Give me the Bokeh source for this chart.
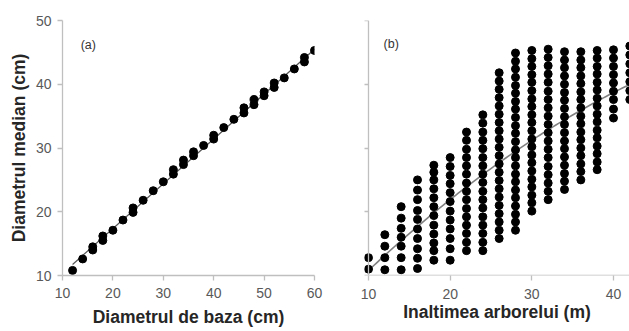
import numpy as np
from bokeh.plotting import figure
from bokeh.layouts import row
from bokeh.models import Range1d, Label, ColumnDataSource
from bokeh.embed import file_html
from bokeh.resources import INLINE

# ---- panel (a): base diameter vs median diameter ----
base_diam = [12, 14, 16, 16, 18, 18, 20, 22, 24, 24, 26, 28, 30, 32, 32, 34, 34,
             36, 36, 38, 40, 40, 42, 44, 46, 46, 48, 48, 50, 50, 52, 52, 54, 56,
             58, 58, 60]
median_diam_a = [10.8, 12.6, 14.0, 14.5, 15.5, 16.2, 17.1, 18.7, 19.9, 20.6, 21.8,
                 23.3, 24.7, 25.9, 26.6, 27.4, 28.1, 28.8, 29.4, 30.4, 31.4, 32.0,
                 33.2, 34.5, 35.5, 36.3, 36.8, 37.6, 38.2, 38.8, 39.5, 40.2, 41.0,
                 42.4, 43.5, 44.2, 45.3]
# linear trend for panel (a): slope, intercept
trend_a = [0.703, 3.3]

# ---- panel (b): tree height vs median diameter, one column per height ----
heights = [10, 12, 14, 16, 18, 20, 22, 24, 26, 28, 30, 32, 34, 36, 38, 40, 42]
d_h10 = [11.0, 12.8]
d_h12 = [10.9, 12.8, 14.6, 16.4]
d_h14 = [10.9, 12.8, 14.6, 16.0, 17.4, 19.0, 20.8]
d_h16 = [11.1, 12.7, 14.2, 15.8, 17.3, 18.8, 20.2, 21.9, 23.4, 25.0]
d_h18 = [12.4, 13.9, 15.1, 16.5, 17.9, 19.4, 20.8, 22.2, 23.6, 25.0, 26.2, 27.3]
d_h20 = [12.4, 14.2, 15.8, 17.3, 18.7, 20.1, 21.6, 23.0, 24.4, 25.7, 27.1, 28.5]
d_h22 = [13.9, 15.2, 16.6, 17.9, 19.2, 20.5, 21.9, 23.2, 24.5, 25.9, 27.2, 28.5,
         29.8, 31.2, 32.5]
d_h24 = [13.9, 15.2, 16.6, 17.9, 19.2, 20.6, 21.9, 23.2, 24.6, 25.9, 27.2, 28.5,
         29.9, 31.2, 32.5, 33.9, 35.2]
d_h26 = [15.8, 17.1, 18.4, 19.7, 21.0, 22.3, 23.6, 24.9, 26.2, 27.5, 28.8, 30.1,
         31.4, 32.7, 34.0, 35.3, 36.6, 37.9, 39.2, 40.5, 41.8]
d_h28 = [17.1, 18.4, 19.6, 20.9, 22.2, 23.4, 24.7, 25.9, 27.2, 28.5, 29.7, 31.0,
         32.3, 33.5, 34.8, 36.1, 37.3, 38.6, 39.8, 41.1, 42.4, 43.6, 44.9]
d_h30 = [20.1, 21.4, 22.6, 23.9, 25.1, 26.4, 27.7, 28.9, 30.2, 31.4, 32.7, 34.0,
         35.2, 36.5, 37.7, 39.0, 40.3, 41.5, 42.8, 44.0, 45.3]
d_h32 = [21.9, 23.2, 24.5, 25.8, 27.1, 28.5, 29.8, 31.1, 32.4, 33.7, 35.0, 36.3,
         37.6, 38.9, 40.3, 41.6, 42.9, 44.2, 45.5]
d_h34 = [23.5, 24.8, 26.0, 27.3, 28.6, 29.9, 31.1, 32.4, 33.7, 34.9, 36.2, 37.5,
         38.7, 40.0, 41.3, 42.6, 43.8, 45.1]
d_h36 = [25.0, 26.3, 27.5, 28.8, 30.0, 31.3, 32.5, 33.8, 35.0, 36.3, 37.6, 38.8,
         40.1, 41.3, 42.6, 43.8, 45.1]
d_h38 = [26.6, 27.8, 29.1, 30.3, 31.6, 32.8, 34.1, 35.3, 36.6, 37.8, 39.1, 40.3,
         41.6, 42.8, 44.1, 45.3]
d_h40 = [34.7, 36.1, 37.6, 38.9, 40.2, 41.5, 42.8, 44.1, 45.4]
d_h42 = [37.6, 39.0, 40.4, 41.8, 43.2, 44.6, 46.0]
# quadratic trend for panel (b): c0, c1, c2
trend_b = [-2.13, 1.383, -0.00906]

x_ticks_a = [10, 20, 30, 40, 50, 60]
x_ticks_b = [10, 20, 30, 40]
y_ticks = [10, 20, 30, 40, 50]

FONT = "Liberation Sans"
AXIS_GRAY = "#bfbfbf"
TICK_TEXT = "#595959"
TITLE_TEXT = "#262626"


def style(p, xticks):
    p.outline_line_color = None
    p.xgrid.visible = False
    p.ygrid.visible = False
    p.xaxis.ticker = xticks
    p.yaxis.ticker = y_ticks
    for ax in (p.xaxis, p.yaxis):
        ax.axis_line_color = AXIS_GRAY
        ax.axis_line_width = 1.3
        ax.major_tick_line_color = AXIS_GRAY
        ax.major_tick_line_width = 1.3
        ax.major_tick_in = 0
        ax.major_tick_out = 5
        ax.minor_tick_in = 0
        ax.minor_tick_out = 0
        ax.major_label_text_font = FONT
        ax.major_label_text_font_size = "14px"
        ax.major_label_text_color = TICK_TEXT
        ax.major_label_text_line_height = 1.0
        ax.axis_label_text_font = FONT
        ax.axis_label_text_font_size = "17.5px"
        ax.axis_label_text_font_style = "bold"
        ax.axis_label_text_color = TITLE_TEXT
        ax.axis_label_text_line_height = 1.0


# ---- left figure ----
pa = figure(width=330, height=331, output_backend="svg", toolbar_location=None,
            x_range=Range1d(10, 60), y_range=Range1d(10, 50),
            min_border_left=62, min_border_right=16, min_border_top=20,
            min_border_bottom=56)
style(pa, x_ticks_a)
pa.xaxis.axis_label = "Diametrul de baza (cm)"
pa.yaxis.axis_label = "Diametrul median (cm)"
pa.xaxis.major_label_standoff = 7
pa.xaxis.axis_label_standoff = 6
pa.yaxis.major_label_standoff = 6
pa.yaxis.axis_label_standoff = 4

xa = np.array([min(base_diam), max(base_diam)], dtype=float)
pa.line(xa, trend_a[0] * xa + trend_a[1], line_color="#555555", line_width=1.2)
pa.scatter(base_diam, median_diam_a, size=8, color="black")
pa.add_layout(Label(x=13.6, y=46.1, text="(a)", text_font=FONT,
                    text_font_size="12.5px", text_color="#333333",
                    text_baseline="middle"))

# ---- right figure ----
cols = [d_h10, d_h12, d_h14, d_h16, d_h18, d_h20, d_h22, d_h24, d_h26, d_h28,
        d_h30, d_h32, d_h34, d_h36, d_h38, d_h40, d_h42]
bx, by = [], []
for h, col in zip(heights, cols):
    bx.extend([h] * len(col))
    by.extend(col)
src_b = ColumnDataSource(dict(h=bx, d=by))

pb = figure(width=299, height=331, output_backend="svg", toolbar_location=None,
            x_range=Range1d(9.51, 41.96), y_range=Range1d(10, 50),
            min_border_left=34, min_border_right=0, min_border_top=20,
            min_border_bottom=52)
style(pb, x_ticks_b)
pb.xaxis.axis_label = "Inaltimea arborelui (m)"
pb.yaxis.fixed_location = 10
pb.xaxis.axis_line_color = None
pb.yaxis.major_label_standoff = 3
pb.xaxis.major_label_standoff = 8
pb.xaxis.axis_label_standoff = 0
# horizontal axis line starting at the vertical axis
pb.segment(x0=[10], y0=[10], x1=[41.96], y1=[10], line_color=AXIS_GRAY,
           line_width=1.3)

xb = np.linspace(10, 42, 100)
pb.line(xb, trend_b[0] + trend_b[1] * xb + trend_b[2] * xb ** 2,
        line_color="#808080", line_width=1.6)
pb.scatter("h", "d", source=src_b, size=8, color="black")
pb.add_layout(Label(x=11.84, y=46.3, text="(b)", text_font=FONT,
                    text_font_size="12.5px", text_color="#333333",
                    text_baseline="middle"))

layout = row(pa, pb)
open("out.html", "w").write(file_html(layout, INLINE))
